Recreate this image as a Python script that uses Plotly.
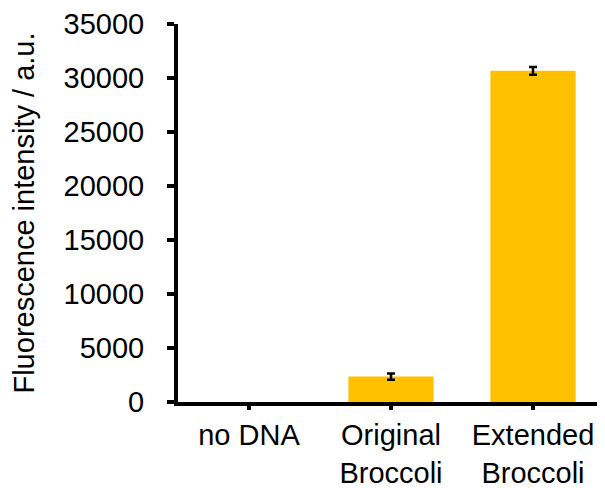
import plotly.graph_objects as go

categories = ["no DNA", "Original<br>Broccoli", "Extended<br>Broccoli"]
values = [0, 2360, 30670]
errors = [0, 290, 360]
y_ticks = [0, 5000, 10000, 15000, 20000, 25000, 30000, 35000]

# error bars only where there is a measured spread
err_x = [c for c, e in zip(categories, errors) if e > 0]
err_y = [v for v, e in zip(values, errors) if e > 0]
err_v = [e for e in errors if e > 0]

fig = go.Figure()
fig.add_trace(go.Bar(
    x=categories, y=values,
    marker=dict(color="#FFC000", line=dict(width=0)),
    width=0.6,
))
fig.add_trace(go.Scatter(
    x=err_x, y=err_y, mode="markers",
    marker=dict(size=1, opacity=0),
    error_y=dict(type="data", array=err_v, visible=True, color="black", thickness=2.5, width=4),
    hoverinfo="skip",
))

font = dict(family="Liberation Sans, Arial, sans-serif", size=29, color="black")
fig.update_layout(
    width=597, height=480,
    margin=dict(l=170, r=1, t=16, b=86),
    plot_bgcolor="white", paper_bgcolor="white",
    font=font,
    showlegend=False,
)
fig.update_xaxes(
    range=[-0.5, 2.5],
    showline=True, linecolor="black", linewidth=4,
    ticks="outside", ticklen=4, tickwidth=4, tickcolor="black",
    showgrid=False, tickfont=font, automargin=False,
)
fig.update_yaxes(
    range=[0, 35000], tickvals=y_ticks,
    ticktext=[str(v) for v in y_ticks],
    showline=True, linecolor="black", linewidth=4,
    ticks="outside", ticklen=7, tickwidth=4, tickcolor="black",
    ticklabelstandoff=17,
    showgrid=False, zeroline=False, tickfont=font, automargin=False,
    title=dict(text="Fluorescence intensity / a.u.", font=font, standoff=22),
)
fig.write_html("out.html")
